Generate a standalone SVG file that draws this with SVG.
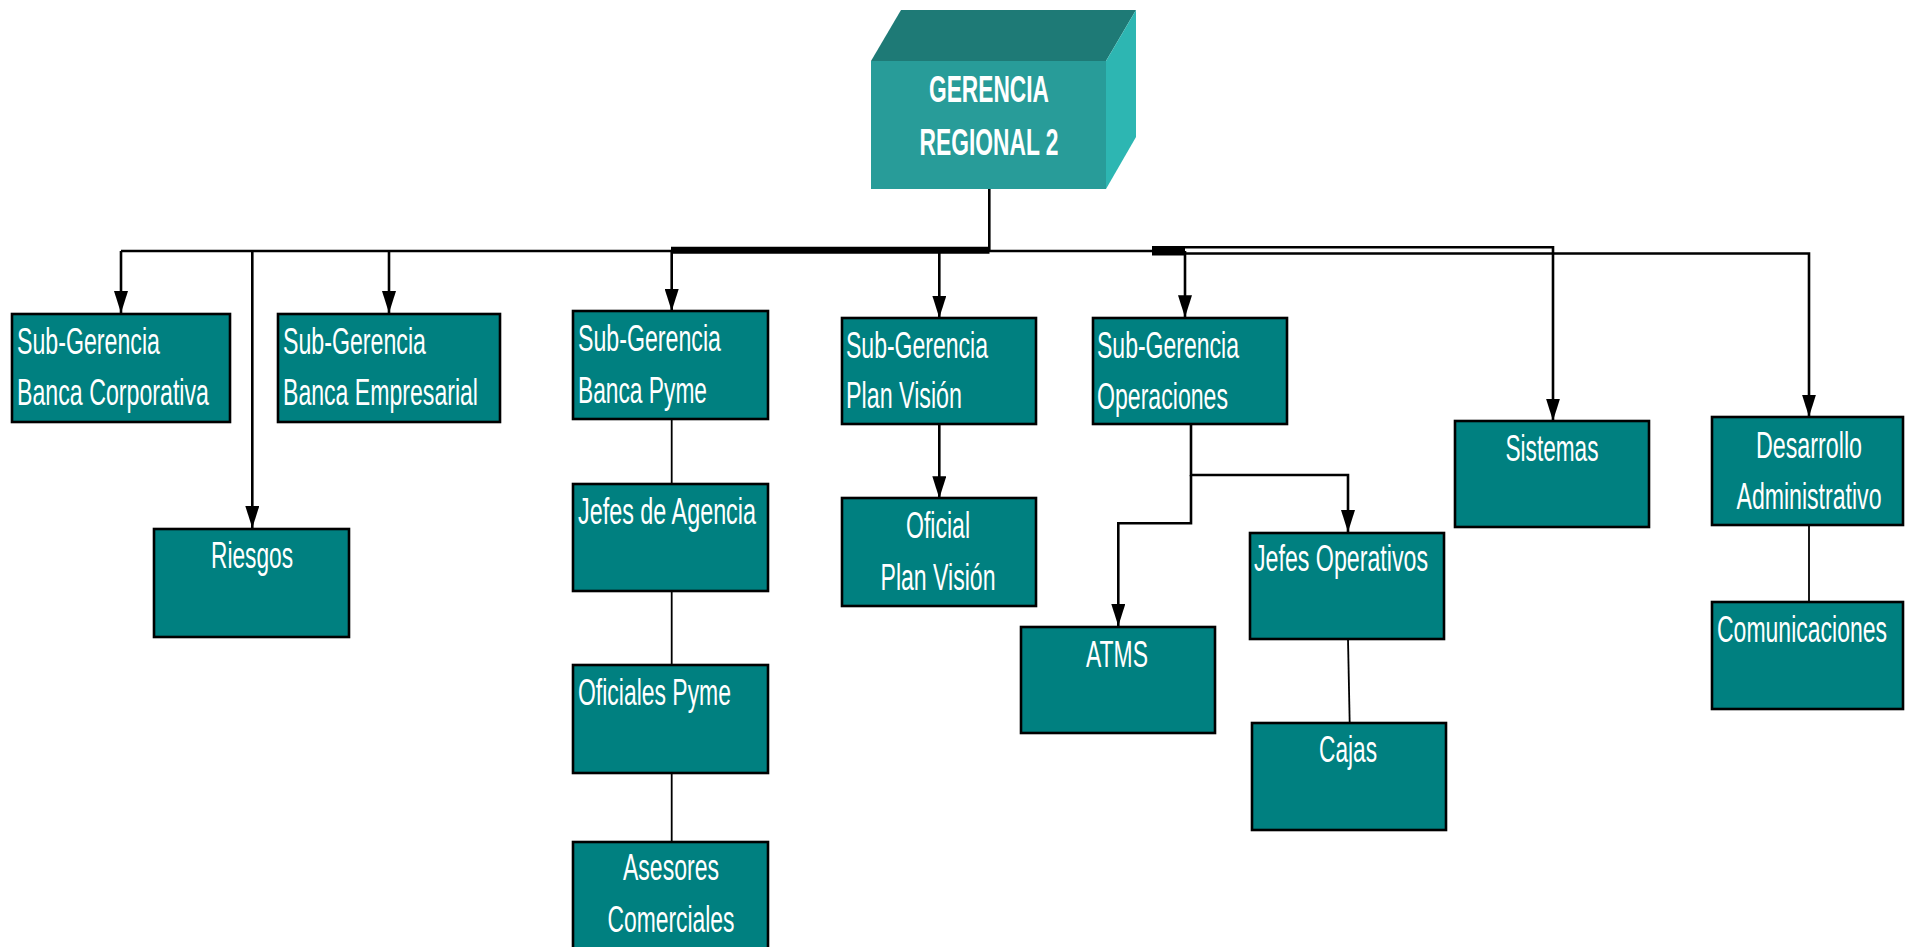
<svg xmlns="http://www.w3.org/2000/svg" width="1905" height="947" viewBox="0 0 1905 947">
<style>
.box{fill:#008080;stroke:#000;stroke-width:2.6}
.t{font-family:"Liberation Sans",Arial,sans-serif;font-size:36px;fill:#fff}
.tb{font-family:"Liberation Sans",Arial,sans-serif;font-size:37px;font-weight:bold;fill:#fff;text-anchor:middle}
.c{text-anchor:middle}
.ln{fill:none;stroke:#000;stroke-width:2.6}
.thin{fill:none;stroke:#000;stroke-width:1.8}
.arr{fill:none;stroke:#000;stroke-width:2.6;marker-end:url(#ah)}
</style>
<defs>
<marker id="ah" viewBox="0 0 22 14" refX="22" refY="7" markerWidth="22" markerHeight="14" markerUnits="userSpaceOnUse" orient="auto">
<path d="M0,0 L22,7 L0,14 z" fill="#000"/>
</marker>
</defs>
<rect width="1905" height="947" fill="#fff"/>

<g id="connectors">
<path class="ln" d="M989.3,189 V250"/>
<path class="ln" d="M121,251 H1152"/>
<path d="M671,250.3 H989.5" stroke="#000" stroke-width="7" fill="none"/>
<path d="M1152,251 H1185" stroke="#000" stroke-width="9" fill="none"/>
<path class="arr" d="M1152,247.3 H1553 V420.7"/>
<path class="arr" d="M1152,253.5 H1809 V416.7"/>
<path class="arr" d="M121,251 V313"/>
<path class="arr" d="M252.3,251 V528"/>
<path class="arr" d="M389,251 V313"/>
<path class="arr" d="M671.7,251 V311"/>
<path class="arr" d="M939.3,251 V317.7"/>
<path class="arr" d="M1185,251 V317.3"/>
<path class="arr" d="M939.3,424.3 V498.3"/>
<path class="arr" d="M1191,424 V475 H1348 V532"/>
<path class="arr" d="M1191,475 V523.3 H1118.3 V626"/>
<path class="thin" d="M671.7,419 V484"/>
<path class="thin" d="M671.7,591 V665"/>
<path class="thin" d="M671.7,773 V842"/>
<path class="thin" d="M1348,639 L1349.7,723"/>
<path class="thin" d="M1809,525 V602"/>
</g>

<g id="gerencia">
<polygon points="871,61 901,10 1136,10 1106,61" fill="#1E7A76"/>
<polygon points="1106,61 1136,10 1136,137 1106,189" fill="#2DB6B2"/>
<rect x="871" y="61" width="235" height="128" fill="#289C99"/>
<text class="tb" x="989" y="101.5" textLength="120" lengthAdjust="spacingAndGlyphs">GERENCIA</text>
<text class="tb" x="989" y="155" textLength="139" lengthAdjust="spacingAndGlyphs">REGIONAL 2</text>
</g>

<g id="banca-corporativa">
<rect class="box" x="12" y="314" width="218" height="108"/>
<text class="t" x="17" y="354" textLength="143" lengthAdjust="spacingAndGlyphs">Sub-Gerencia</text>
<text class="t" x="17" y="405" textLength="192" lengthAdjust="spacingAndGlyphs">Banca Corporativa</text>
</g>

<g id="riesgos">
<rect class="box" x="154" y="529" width="195" height="108"/>
<text class="t c" x="252" y="568" textLength="82" lengthAdjust="spacingAndGlyphs">Riesgos</text>
</g>

<g id="banca-empresarial">
<rect class="box" x="278" y="314" width="222" height="108"/>
<text class="t" x="283" y="354" textLength="143" lengthAdjust="spacingAndGlyphs">Sub-Gerencia</text>
<text class="t" x="283" y="405" textLength="195" lengthAdjust="spacingAndGlyphs">Banca Empresarial</text>
</g>

<g id="banca-pyme">
<rect class="box" x="573" y="311" width="195" height="108"/>
<text class="t" x="578" y="351" textLength="143" lengthAdjust="spacingAndGlyphs">Sub-Gerencia</text>
<text class="t" x="578" y="403" textLength="129" lengthAdjust="spacingAndGlyphs">Banca Pyme</text>
</g>

<g id="jefes-agencia">
<rect class="box" x="573" y="484" width="195" height="107"/>
<text class="t" x="578" y="524" textLength="178" lengthAdjust="spacingAndGlyphs">Jefes de Agencia</text>
</g>

<g id="oficiales-pyme">
<rect class="box" x="573" y="665" width="195" height="108"/>
<text class="t" x="578" y="705" textLength="153" lengthAdjust="spacingAndGlyphs">Oficiales Pyme</text>
</g>

<g id="asesores">
<rect class="box" x="573" y="842" width="195" height="112"/>
<text class="t c" x="671" y="880" textLength="96" lengthAdjust="spacingAndGlyphs">Asesores</text>
<text class="t c" x="671" y="932" textLength="127" lengthAdjust="spacingAndGlyphs">Comerciales</text>
</g>

<g id="plan-vision">
<rect class="box" x="842" y="318" width="194" height="106"/>
<text class="t" x="846" y="358" textLength="142" lengthAdjust="spacingAndGlyphs">Sub-Gerencia</text>
<text class="t" x="846" y="408" textLength="116" lengthAdjust="spacingAndGlyphs">Plan Visión</text>
</g>

<g id="oficial-plan-vision">
<rect class="box" x="842" y="498" width="194" height="108"/>
<text class="t c" x="938" y="538" textLength="64" lengthAdjust="spacingAndGlyphs">Oficial</text>
<text class="t c" x="938" y="590" textLength="115" lengthAdjust="spacingAndGlyphs">Plan Visión</text>
</g>

<g id="operaciones">
<rect class="box" x="1093" y="318" width="194" height="106"/>
<text class="t" x="1097" y="358" textLength="142" lengthAdjust="spacingAndGlyphs">Sub-Gerencia</text>
<text class="t" x="1097" y="409" textLength="131" lengthAdjust="spacingAndGlyphs">Operaciones</text>
</g>

<g id="atms">
<rect class="box" x="1021" y="627" width="194" height="106"/>
<text class="t c" x="1117" y="667" textLength="62" lengthAdjust="spacingAndGlyphs">ATMS</text>
</g>

<g id="jefes-operativos">
<rect class="box" x="1250" y="533" width="194" height="106"/>
<text class="t" x="1254" y="571" textLength="174" lengthAdjust="spacingAndGlyphs">Jefes Operativos</text>
</g>

<g id="cajas">
<rect class="box" x="1252" y="723" width="194" height="107"/>
<text class="t c" x="1348" y="762" textLength="58" lengthAdjust="spacingAndGlyphs">Cajas</text>
</g>

<g id="sistemas">
<rect class="box" x="1455" y="421" width="194" height="106"/>
<text class="t c" x="1552" y="461" textLength="93" lengthAdjust="spacingAndGlyphs">Sistemas</text>
</g>

<g id="desarrollo">
<rect class="box" x="1712" y="417" width="191" height="108"/>
<text class="t c" x="1809" y="458" textLength="106" lengthAdjust="spacingAndGlyphs">Desarrollo</text>
<text class="t c" x="1809" y="509" textLength="145" lengthAdjust="spacingAndGlyphs">Administrativo</text>
</g>

<g id="comunicaciones">
<rect class="box" x="1712" y="602" width="191" height="107"/>
<text class="t" x="1717" y="642" textLength="170" lengthAdjust="spacingAndGlyphs">Comunicaciones</text>
</g>
</svg>
